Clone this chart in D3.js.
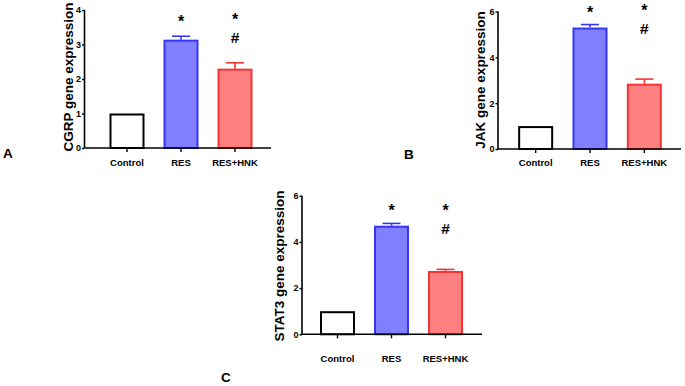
<!DOCTYPE html>
<html><head><meta charset="utf-8">
<script src="https://cdn.jsdelivr.net/npm/d3@7"></script>
<style>body{margin:0;background:#fff}svg{display:block}text{font-family:"Liberation Sans",Arial,sans-serif;font-weight:bold}</style>
</head><body>
<svg id="c" width="685" height="386"></svg>
<script>
const categories = ["Control", "RES", "RES+HNK"];
const cgrpValues = [1.0, 3.14, 2.30];
const cgrpErrors = [0, 0.10, 0.17];
const cgrpTicks = [0, 1, 2, 3, 4];
const jakValues = [1.0, 5.30, 2.85];
const jakErrors = [0, 0.13, 0.20];
const jakTicks = [0, 2, 4, 6];
const stat3Values = [1.0, 4.70, 2.74];
const stat3Errors = [0, 0.10, 0.07];
const stat3Ticks = [0, 2, 4, 6];
const signif = ["", "*", "*#"];
const fills = ["#ffffff", "#8080ff", "#ff8080"];
const strokes = ["#000000", "#3535f5", "#f53535"];

const svg = d3.select("#c");

const panels = [
  {letter:"A", title:"CGRP gene expression", values:cgrpValues, errors:cgrpErrors, ticks:cgrpTicks, ymax:4,
   axX:84.5, axEnd:271, y0:148, y1:10, bandL:100, bandR:262, labBase:72.5, labY:77, tickY:166,
   letX:3, letY:158, starY:[26.5,25], hashY:42.8},
  {letter:"B", title:"JAK gene expression", values:jakValues, errors:jakErrors, ticks:jakTicks, ymax:6,
   axX:498, axEnd:681, y0:149, y1:11.5, bandL:508.5, bandR:671.5, labBase:485, labY:80, tickY:166,
   letX:404, letY:159, starY:[17.8,16.4], hashY:34.2},
  {letter:"C", title:"STAT3 gene expression", values:stat3Values, errors:stat3Errors, ticks:stat3Ticks, ymax:6,
   axX:302, axEnd:482, y0:334.3, y1:195.7, bandL:310.5, bandR:472.5, labBase:284, labY:266, tickY:362,
   letX:221, letY:382, starY:[216,216.4], hashY:234.2}
];

panels.forEach(p => {
  const g = svg.append("g");
  const x = d3.scaleBand().domain(categories).range([p.bandL, p.bandR]).padding(0);
  const y = d3.scaleLinear().domain([0, p.ymax]).range([p.y0, p.y1]);
  const bw = 33;

  categories.forEach((c, i) => {
    const cx = x(c) + x.bandwidth() / 2;
    const v = p.values[i], e = p.errors[i];
    if (e > 0) {
      g.append("line").attr("x1", cx).attr("x2", cx).attr("y1", y(v)).attr("y2", y(v + e))
        .attr("stroke", strokes[i]).attr("stroke-width", 1.6);
      g.append("line").attr("x1", cx - 9).attr("x2", cx + 9).attr("y1", y(v + e)).attr("y2", y(v + e))
        .attr("stroke", strokes[i]).attr("stroke-width", 1.6);
    }
    g.append("rect").attr("x", cx - bw / 2).attr("width", bw)
      .attr("y", y(v) + 1).attr("height", y(0) - y(v) - 1)
      .attr("fill", fills[i]).attr("stroke", strokes[i]).attr("stroke-width", 2);
    const marks = signif[i];
    if (marks.length) {
      g.append("text").attr("text-anchor", "middle").attr("x", cx).attr("y", p.starY[i - 1])
        .attr("font-size", 16).text(marks[0]);
      if (marks.length > 1) {
        g.append("text").attr("text-anchor", "middle").attr("x", cx).attr("y", p.hashY)
          .attr("font-size", 15.5).text(marks[1]);
      }
    }
  });

  const ya = g.append("g").attr("transform", `translate(${p.axX},0)`)
    .call(d3.axisLeft(y).tickValues(p.ticks).tickSize(2.5).tickPadding(1).tickFormat(d3.format("d")));
  ya.select(".domain").attr("stroke-width", 1.6).attr("d", `M0,${p.y1}V${p.y0}`);
  ya.selectAll(".tick line").attr("stroke-width", 1.4);
  ya.selectAll(".tick text").attr("font-size", 9).attr("font-family", '"Liberation Sans",Arial,sans-serif').attr("font-weight", "bold");

  const xa = g.append("g").attr("transform", `translate(0,${p.y0})`)
    .call(d3.axisBottom(x).tickSize(4).tickPadding(4));
  xa.select(".domain").attr("stroke-width", 1.6).attr("d", `M${p.axX},0H${p.axEnd}`);
  xa.selectAll(".tick line").attr("stroke-width", 1.4);
  xa.selectAll(".tick text").attr("font-size", 9.5).attr("font-family", '"Liberation Sans",Arial,sans-serif')
    .attr("font-weight", "bold").attr("dy", null).attr("y", p.tickY - p.y0);

  g.append("text").attr("transform", `translate(${p.labBase},${p.labY}) rotate(-90)`)
    .attr("text-anchor", "middle").attr("font-size", 13.5).text(p.title);

  g.append("text").attr("x", p.letX).attr("y", p.letY).attr("font-size", 13.5).text(p.letter);
});
</script>
</body></html>
